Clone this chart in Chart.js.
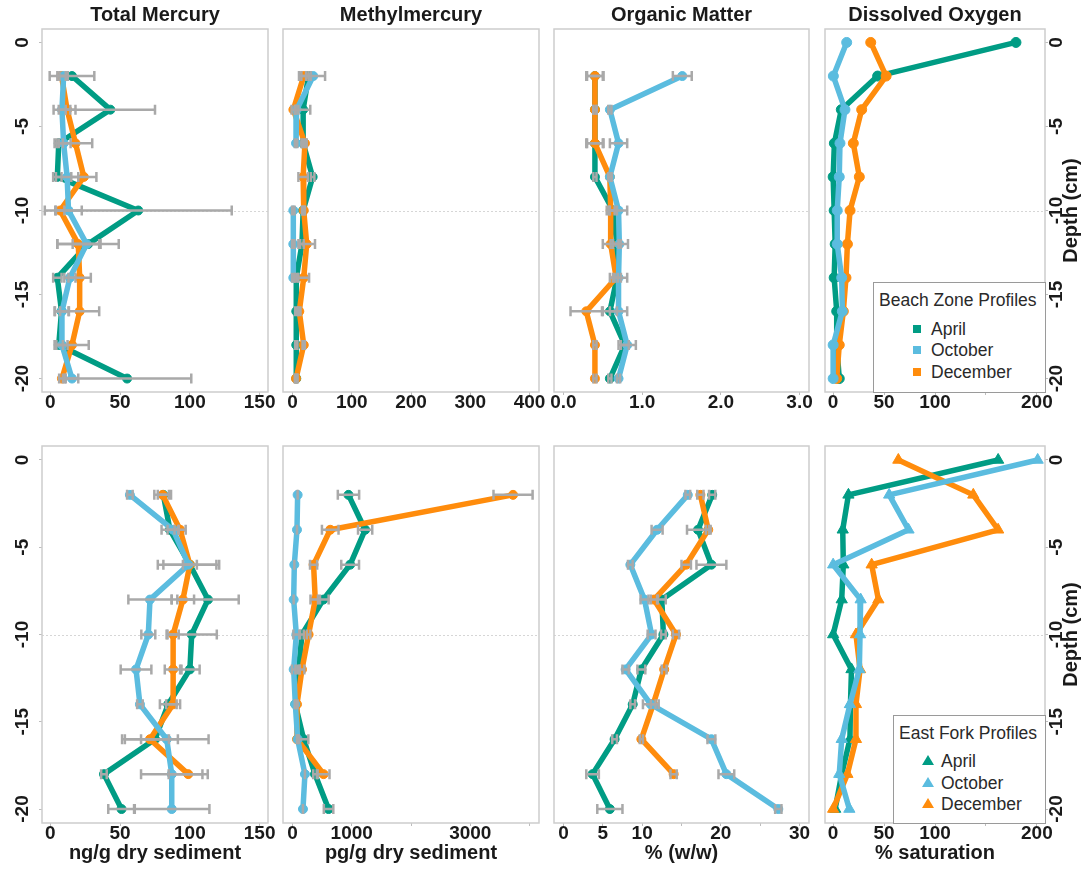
<!DOCTYPE html>
<html><head><meta charset="utf-8">
<script src="https://cdn.jsdelivr.net/npm/chart.js@4.4.1/dist/chart.umd.min.js"></script>
<style>
html,body{margin:0;padding:0;background:#fff;}
#wrap{position:relative;width:1089px;height:869px;overflow:hidden;background:#fff;font-family:"Liberation Sans",Arial,sans-serif;}
#wrap canvas{position:absolute;}
.legend{position:absolute;background:#fff;border:1px solid #9a9a9a;box-sizing:border-box;color:#2a2a2a;font-size:17.5px;line-height:20px;}
.legend .lt{position:absolute;left:5px;top:7px;white-space:nowrap;}
.legend .li{position:absolute;white-space:nowrap;}
.legend .sq{position:absolute;width:8px;height:8px;}
.legend .tri{position:absolute;width:0;height:0;border-left:6px solid transparent;border-right:6px solid transparent;}
</style></head>
<body><div id="wrap"></div>
<script>
// ---------- data ----------
const depthSed = [-2,-4,-6,-8,-10,-12,-14,-16,-18,-20];
const depthDO = [0,-2,-4,-6,-8,-10,-12,-14,-16,-18,-20];
const seriesNames = ['April','October','December'];
const seriesColors = ['#009c84','#5bbcdf','#ff8c0c'];
const panelTitles = ['Total Mercury','Methylmercury','Organic Matter','Dissolved Oxygen'];
const xAxisTitles = ['ng/g dry sediment','pg/g dry sediment','% (w/w)','% saturation'];
const depthTicks = [0,-5,-10,-15,-20];
const depthTickLabels = ['0','-5','-10','-15','-20'];
const depthRefLine = -10;
const legendTitles = ['Beach Zone Profiles','East Fork Profiles'];

// x tick values / labels
const tmTicks = [0,50,100,150];           const tmTickLabels = ['0','50','100','150'];
const mhBeachTicks = [0,100,200,300,400]; const mhBeachTickLabels = ['0','100','200','300','400'];
const mhEfTicks = [0,1000,2000,3000,4000]; const mhEfTickLabels = ['0','1000','','3000',''];
const omBeachTicks = [0,1,2,3];           const omBeachTickLabels = ['0.0','1.0','2.0','3.0'];
const omEfTicks = [0,5,10,15,20,25,30];    const omEfTickLabels = ['0','5','10','','20','','30'];
const doTicks = [0,50,100,150,200];        const doTickLabels = ['0','50','100','','200'];

// Beach zone: Total mercury
const tmBeachApr = [15.5,43,6,5,63,27,5,8,6,55];
const tmBeachAprErr = [16,32,3,3,67,22,3,5,3,46];
const tmBeachOct = [9.5,8.3,9.5,12,13,26,14,8.3,8.3,15.5];
const tmBeachOctErr = [3,6,5,8,9.5,10,4,5,4,4.5];
const tmBeachDec = [8,12,18,24,7,20,21,21,15.5,8.3];
const tmBeachDecErr = [3,6,12,9,3,15,8,14,12,2];
// Beach zone: Methylmercury
const mhBeachApr = [27,18,18,34,18,16,6.4,6.4,6.4,6.4];
const mhBeachAprErr = [4,12,3,3,2,3,2,2,2,2];
const mhBeachOct = [35,7,6,null,1.4,1.4,1.4,null,null,null];
const mhBeachOctErr = [20,3,2,null,2,2,2,null,null,null];
const mhBeachDec = [19,1.5,21,18,19,24,19,11.5,19,6];
const mhBeachDecErr = [8,3,3,8,2,14,9,2,2,2];
// Beach zone: Organic matter
const omBeachApr = [0.40,0.40,0.40,0.40,0.63,0.68,0.68,0.59,0.78,0.59];
const omBeachAprErr = [0.1,0.02,0.1,0.02,0.05,0.05,0.05,0.09,0.05,0.02];
const omBeachOct = [1.51,0.59,0.70,0.59,0.70,0.71,0.70,0.70,0.81,0.70];
const omBeachOctErr = [0.12,0.02,0.11,0.02,0.11,0.11,0.11,0.11,0.11,0.02];
const omBeachDec = [0.40,0.40,0.40,0.59,0.60,0.60,0.67,0.29,0.40,0.40];
const omBeachDecErr = [0.11,0.02,0.11,0.02,0.05,0.1,0.02,0.2,0.02,0.02];
// Beach zone: Dissolved oxygen
const doBeachApr = [179.5,43.7,8,1.2,0,1,2,1,3.5,3.5,6];
const doBeachOct = [13.3,0.2,11.6,6.7,6,4,4,8.4,9,0,0];
const doBeachDec = [36.9,52,28,19.8,25.7,16.6,14,12.6,10,6,3.5];

// East Fork: Total mercury
const tmEfApr = [81,85.7,100,113,101.3,100,84.5,75,38.4,51];
const tmEfAprErr = [4,6,19,22,18,7,6,10,2,9.5];
const tmEfOct = [57,88,99,71.4,70.2,61.4,64.2,83.4,87,87];
const tmEfOctErr = [2,4,22,15.5,5,11,2,30,22,27];
const tmEfDec = [80.5,93,100,95,88,88,88,71.4,98.8];
const tmEfDecErr = [6,4,5,8,4,6,5,20,14];
// East Fork: Methylmercury
const mhEfApr = [945,1226,973,520,160,104,48,188,380,609];
const mhEfAprErr = [180,120,150,90,30,20,10,80,30,80];
const mhEfOct = [87,76,31,20,65,20,48,87,210,177];
const mhEfOctErr = [0,0,0,0,50,30,0,0,0,0];
const mhEfDec = [3722,637,356,384,272,160,76,76,525];
const mhEfDecErr = [330,140,60,80,30,40,10,0,100];
// East Fork: Organic matter
const omEfApr = [18.9,17.1,18.8,12.5,12.7,9.9,8.8,6.5,3.7,5.9];
const omEfAprErr = [0.4,1.4,1.9,0.5,0.3,0.5,0.3,0.3,0.8,1.6];
const omEfOct = [15.8,11.9,8.5,10.3,11.2,7.9,11.1,18.8,20.7,27.3];
const omEfOctErr = [0.3,0.7,0.3,0.5,0.5,0.4,1.0,0.5,1.0,0.4];
const omEfDec = [17.4,18.4,15.6,11.5,14.3,12.8,11.4,9.9,14.0];
const omEfDecErr = [0.4,0.3,0.6,0.4,0.4,0.3,0.3,0.2,0.4];
// East Fork: Dissolved oxygen
const doEfApr = [162,15,9.4,10,8.4,0,18,17,16.5,8.4,2];
const doEfOct = [200.8,55,74,0,27,26.4,25.7,16.5,8.4,6,15.9];
const doEfDec = [64,137.6,162,37.8,44.4,22.4,26.4,22.4,22.4,14,0];

// ---------- layout ----------
const FONT = '"Liberation Sans", Arial, sans-serif';
Chart.defaults.font.family = FONT;
const colLeft = [42,283,554,825], colRight = [268,539,809,1045];
const rowTop = [29,446], rowBottom = [392,823];
const depthMin = -20.8, depthMax = 0.8;

const errorBarPlugin = {
  id:'errbars',
  afterDatasetsDraw(chart){
    const ctx = chart.ctx, xs = chart.scales.x, ys = chart.scales.y;
    ctx.save();
    ctx.strokeStyle = '#a9a9a9'; ctx.lineWidth = 2.5; ctx.lineCap = 'butt';
    chart.data.datasets.forEach(ds => {
      if (!ds.errors) return;
      ds.data.forEach((p,i) => {
        const e = ds.errors[i];
        if (p.x === null || e === null || e === undefined) return;
        const y = ys.getPixelForValue(p.y);
        const x1 = xs.getPixelForValue(p.x - e), x2 = xs.getPixelForValue(p.x + e);
        ctx.beginPath();
        ctx.moveTo(x1,y); ctx.lineTo(x2,y);
        ctx.moveTo(x1,y-5); ctx.lineTo(x1,y+5);
        ctx.moveTo(x2,y-5); ctx.lineTo(x2,y+5);
        ctx.stroke();
      });
    });
    ctx.restore();
  }
};
const framePlugin = {
  id:'frame',
  beforeDatasetsDraw(chart){
    const ctx = chart.ctx, a = chart.chartArea, ys = chart.scales.y;
    ctx.save();
    const yy = Math.round(ys.getPixelForValue(depthRefLine)) + 0.5;
    ctx.strokeStyle = '#d6d6d6'; ctx.lineWidth = 1; ctx.setLineDash([2,2]);
    ctx.beginPath(); ctx.moveTo(a.left, yy); ctx.lineTo(a.right, yy); ctx.stroke();
    ctx.setLineDash([]);
    ctx.strokeStyle = '#cdcdcd'; ctx.lineWidth = 1.5;
    ctx.strokeRect(a.left, a.top, a.right - a.left, a.bottom - a.top);
    ctx.restore();
  }
};
const depthTitlePlugin = {
  id:'depthTitle',
  afterDraw(chart){
    const ctx = chart.ctx, a = chart.chartArea;
    ctx.save();
    ctx.translate(a.right + 26, (a.top + a.bottom) / 2);
    ctx.rotate(-Math.PI / 2);
    ctx.font = 'bold 20px ' + FONT;
    ctx.fillStyle = '#1a1a1a';
    ctx.textAlign = 'center'; ctx.textBaseline = 'middle';
    ctx.fillText('Depth (cm)', 0, 0);
    ctx.restore();
  }
};

const wrap = document.getElementById('wrap');

function makePanel(row, col, depths, series, xmin, xmax, xticks, xlabels, pointStyle, pointRadius){
  const pl = colLeft[col], pr = colRight[col], pt = rowTop[row], pb = rowBottom[row];
  const showY = col === 0 || col === 3;
  const Lm = col === 0 ? 42 : 20, Rm = col === 3 ? 44 : 20;
  const Tm = row === 0 ? 29 : 20, Bm = row === 0 ? 25 : 46;
  const xH = row === 0 ? 25 : 42;
  const w = pr - pl + Lm + Rm, h = pb - pt + Tm + Bm;
  const cv = document.createElement('canvas');
  cv.width = w; cv.height = h;
  cv.style.left = (pl - Lm) + 'px'; cv.style.top = (pt - Tm) + 'px';
  cv.style.width = w + 'px'; cv.style.height = h + 'px';
  wrap.appendChild(cv);
  const orders = [2,0,1];
  const datasets = series.map((s,k) => ({
    label: seriesNames[k],
    data: s.vals.map((v,i) => ({x: v, y: depths[i]})),
    errors: s.errs || null,
    borderColor: seriesColors[k], backgroundColor: seriesColors[k],
    pointBackgroundColor: seriesColors[k], pointBorderColor: seriesColors[k],
    borderWidth: 5.5, pointRadius: pointRadius, pointStyle: pointStyle, pointBorderWidth: 1,
    showLine: true, tension: 0, fill: false, spanGaps: false,
    borderJoinStyle: 'round', borderCapStyle: 'round',
    order: orders[k]
  }));
  const tickFont = {family: FONT, size: 19, weight: 'bold', lineHeight: 1};
  const plugins = [framePlugin, errorBarPlugin];
  if (col === 3) plugins.push(depthTitlePlugin);
  return new Chart(cv, {
    type: 'scatter',
    data: {datasets},
    plugins,
    options: {
      responsive: false, animation: false, devicePixelRatio: 1,
      layout: {padding: {left: col === 0 ? 0 : 20, right: col === 3 ? 0 : 20, top: row === 0 ? 0 : 20, bottom: row === 0 ? 0 : 4}},
      plugins: {
        legend: {display: false}, tooltip: {enabled: false},
        title: {display: row === 0, fullSize: false, text: panelTitles[col], color: '#1a1a1a',
                font: {family: FONT, size: 20, weight: 'bold'}, padding: {top: 3, bottom: 2}}
      },
      scales: {
        x: {
          type: 'linear', min: xmin, max: xmax,
          afterBuildTicks: sc => { sc.ticks = xticks.map(v => ({value: v})); },
          afterFit: sc => { sc.height = xH; },
          ticks: {autoSkip: false, maxRotation: 0, minRotation: 0, padding: -2, color: '#1a1a1a', font: tickFont,
                  callback: v => { const i = xticks.indexOf(v); return i >= 0 ? xlabels[i] : ''; }},
          grid: {drawOnChartArea: false, drawTicks: true, tickLength: 3, tickColor: '#bdbdbd', color: '#bdbdbd'},
          border: {display: false},
          title: row === 1 ? {display: true, text: xAxisTitles[col], color: '#1a1a1a',
                              font: {family: FONT, size: 20, weight: 'bold'}, padding: {top: 0, bottom: 0}} : {display: false}
        },
        y: {
          type: 'linear', min: depthMin, max: depthMax,
          display: showY,
          position: col === 3 ? 'right' : 'left',
          afterBuildTicks: sc => { sc.ticks = depthTicks.map(v => ({value: v})); },
          afterFit: sc => { if (showY) sc.width = col === 3 ? 44 : 42; else sc.width = 0; },
          ticks: {autoSkip: false, minRotation: 90, maxRotation: 90, crossAlign: 'center',
                  padding: col === 3 ? -5 : 3, color: '#1a1a1a', font: tickFont,
                  callback: v => { const i = depthTicks.indexOf(v); return i >= 0 ? depthTickLabels[i] : ''; }},
          grid: {drawOnChartArea: false, drawTicks: true, tickLength: 3, tickColor: '#bdbdbd', color: '#bdbdbd'},
          border: {display: false}
        }
      }
    }
  });
}

// Beach zone row
makePanel(0,0,depthSed,[{vals:tmBeachApr,errs:tmBeachAprErr},{vals:tmBeachOct,errs:tmBeachOctErr},{vals:tmBeachDec,errs:tmBeachDecErr}],-6,156,tmTicks,tmTickLabels,'circle',4.5);
makePanel(0,1,depthSed,[{vals:mhBeachApr,errs:mhBeachAprErr},{vals:mhBeachOct,errs:mhBeachOctErr},{vals:mhBeachDec,errs:mhBeachDecErr}],-16,416,mhBeachTicks,mhBeachTickLabels,'circle',4.5);
makePanel(0,2,depthSed,[{vals:omBeachApr,errs:omBeachAprErr},{vals:omBeachOct,errs:omBeachOctErr},{vals:omBeachDec,errs:omBeachDecErr}],-0.12,3.12,omBeachTicks,omBeachTickLabels,'circle',4.5);
makePanel(0,3,depthDO,[{vals:doBeachApr},{vals:doBeachOct},{vals:doBeachDec}],-8,208,doTicks,doTickLabels,'circle',5);
// East Fork row
makePanel(1,0,depthSed,[{vals:tmEfApr,errs:tmEfAprErr},{vals:tmEfOct,errs:tmEfOctErr},{vals:tmEfDec,errs:tmEfDecErr}],-6,156,tmTicks,tmTickLabels,'circle',4.5);
makePanel(1,1,depthSed,[{vals:mhEfApr,errs:mhEfAprErr},{vals:mhEfOct,errs:mhEfOctErr},{vals:mhEfDec,errs:mhEfDecErr}],-160,4160,mhEfTicks,mhEfTickLabels,'circle',4.5);
makePanel(1,2,depthSed,[{vals:omEfApr,errs:omEfAprErr},{vals:omEfOct,errs:omEfOctErr},{vals:omEfDec,errs:omEfDecErr}],-1.2,31.2,omEfTicks,omEfTickLabels,'circle',4.5);
makePanel(1,3,depthDO,[{vals:doEfApr},{vals:doEfOct},{vals:doEfDec}],-8,208,doTicks,doTickLabels,'triangle',6.5);

// ---------- legends (HTML) ----------
function makeLegend(title, left, top, width, height, markerX, textX, rowY, shape){
  const d = document.createElement('div');
  d.className = 'legend';
  d.style.left = left + 'px'; d.style.top = top + 'px';
  d.style.width = width + 'px'; d.style.height = height + 'px';
  const t = document.createElement('div'); t.className = 'lt'; t.textContent = title; d.appendChild(t);
  seriesNames.forEach((n,k) => {
    const m = document.createElement('div');
    if (shape === 'square') {
      m.className = 'sq'; m.style.background = seriesColors[k];
      m.style.left = (markerX - 4) + 'px'; m.style.top = (rowY[k] - 4) + 'px';
    } else {
      m.className = 'tri'; m.style.borderBottom = '10px solid ' + seriesColors[k];
      m.style.left = (markerX - 6) + 'px'; m.style.top = (rowY[k] - 6) + 'px';
    }
    d.appendChild(m);
    const s = document.createElement('div'); s.className = 'li'; s.textContent = n;
    s.style.left = textX + 'px'; s.style.top = (rowY[k] - 10) + 'px';
    d.appendChild(s);
  });
  wrap.appendChild(d);
}
makeLegend(legendTitles[0], 873, 282, 173, 111, 43, 57, [46,67,89], 'square');
makeLegend(legendTitles[1], 893, 715, 153, 109, 34, 47, [45,67,88], 'triangle');
</script>
</body></html>
